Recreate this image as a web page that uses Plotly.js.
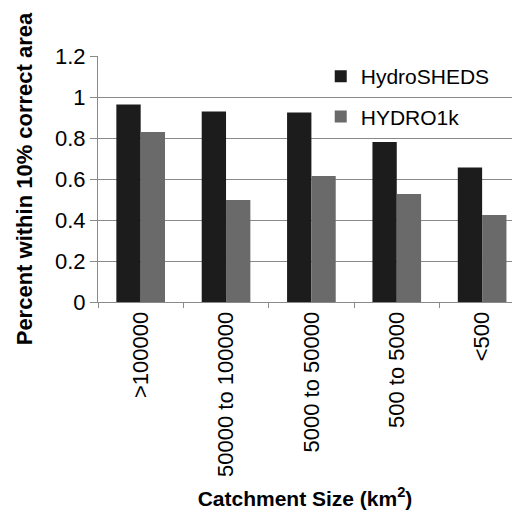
<!DOCTYPE html>
<html>
<head>
<meta charset="utf-8">
<script src="https://cdn.plot.ly/plotly-3.0.1.min.js"></script>
<style>html,body{margin:0;padding:0;background:#fff;}#chart{width:512px;height:510px;}</style>
</head>
<body>
<div id="chart"></div>
<script>
const categories = [">100000", "50000 to 100000", "5000 to 50000", "500 to 5000", "<500"];
const hydroSHEDS = [0.963, 0.929, 0.925, 0.780, 0.656];
const hydro1k = [0.829, 0.498, 0.615, 0.527, 0.424];
const seriesNames = ["HydroSHEDS", "HYDRO1k"];
const yTickVals = [0, 0.2, 0.4, 0.6, 0.8, 1, 1.2];
const yTickText = ["0", "0.2", "0.4", "0.6", "0.8", "1", "1.2"];

const FONT = '"Liberation Sans", Arial, Helvetica, sans-serif';

const traces = [
  {type: 'bar', name: seriesNames[0], x: categories, y: hydroSHEDS,
   marker: {color: '#1c1c1c'}, legendgroup: 'a'},
  {type: 'bar', name: seriesNames[1], x: categories, y: hydro1k,
   marker: {color: '#6a6a6a'}, legendgroup: 'b'}
];

const layout = {
  width: 512, height: 510,
  margin: {l: 98, r: 0, t: 56, b: 208, pad: 0},
  paper_bgcolor: '#ffffff', plot_bgcolor: '#ffffff',
  font: {family: FONT, size: 22, color: '#000'},
  barmode: 'group', bargap: 0.43, bargroupgap: 0,
  showlegend: true,
  legend: {x: 0.538, y: 1.0, xanchor: 'left', yanchor: 'top',
           bgcolor: 'rgba(0,0,0,0)', font: {family: FONT, size: 21, color: '#000'},
           traceorder: 'grouped', tracegroupgap: 10},
  xaxis: {type: 'category', range: [-0.5, 4.35], tickson: 'boundaries',
          ticks: 'outside', ticklen: 5, tickcolor: '#8a8a8a', showline: true,
          linecolor: '#8a8a8a', linewidth: 1, showgrid: false, tickangle: -90,
          tickfont: {family: FONT, size: 22, color: '#000'}, automargin: false,
          title: {text: '<b>Catchment Size (km<sup>2</sup>)</b>', font: {family: FONT, size: 21, color: '#000'}, standoff: 22}},
  yaxis: {range: [0, 1.2], tickvals: yTickVals, ticktext: yTickText,
          ticks: 'outside', ticklen: 7, tickcolor: '#8a8a8a', showline: true,
          linecolor: '#8a8a8a', linewidth: 1, showgrid: true, gridcolor: '#8a8a8a',
          zeroline: false, tickfont: {family: FONT, size: 22, color: '#000'}, automargin: false,
          title: {text: '<b>Percent within 10% correct area</b>', font: {family: FONT, size: 22, color: '#000'}, standoff: 16}}
};

Plotly.newPlot('chart', traces, layout, {displayModeBar: false, staticPlot: true});
</script>
</body>
</html>
